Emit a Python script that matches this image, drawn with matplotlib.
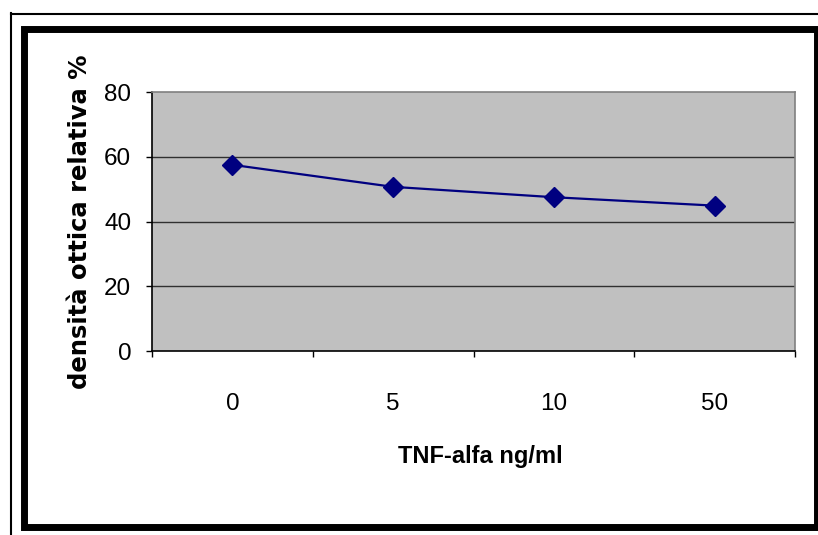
import matplotlib.pyplot as plt
from matplotlib.patches import Rectangle
from matplotlib.lines import Line2D

# data
doses = ['0', '5', '10', '50']
density = [57.5, 50.7, 47.5, 44.9]
y_ticks = [0, 20, 40, 60, 80]

fig = plt.figure(figsize=(8.18, 5.35), dpi=100)
W, H = 818, 535

# frames around the chart (pixel coords -> figure fraction)
fig.add_artist(Line2D([11 / W, 11 / W], [0, 1 - 13 / H], color='black', lw=1.5,
                      transform=fig.transFigure))
fig.add_artist(Line2D([11 / W, 1], [1 - 14 / H, 1 - 14 / H], color='black', lw=1.5,
                      transform=fig.transFigure))
fig.add_artist(Rectangle((24 / W, 1 - 527 / H), (817 - 24) / W, (527 - 29) / H,
                         fill=False, edgecolor='black', lw=5,
                         transform=fig.transFigure))

ax = fig.add_axes([152 / W, 1 - 351 / H, (795 - 152) / W, (351 - 92) / H])
ax.set_facecolor('#c0c0c0')

x = range(len(doses))
ax.plot(x, density, color='#000080', lw=1.6, marker='D', markersize=10.5,
        markerfacecolor='#000080', markeredgecolor='#000080', zorder=3)

ax.set_ylim(0, 80)
ax.set_xlim(-0.5, 3.5)
ax.set_yticks(y_ticks)
for v in y_ticks[1:-1]:
    ax.axhline(v, color='#303030', lw=1, zorder=1)

# category boundaries as major ticks, labels in the middle
ax.set_xticks([-0.5, 0.5, 1.5, 2.5, 3.5])
ax.set_xticklabels([])
ax.set_xticks(list(x), minor=True)
ax.set_xticklabels(doses, minor=True)
ax.tick_params(axis='x', which='minor', length=0, pad=30)
ax.tick_params(axis='x', which='major', length=4, width=1)
ax.tick_params(axis='y', length=4, width=1, pad=11)

for lab in ax.get_xticklabels(minor=True) + ax.get_yticklabels():
    lab.set_fontfamily(['Liberation Sans', 'DejaVu Sans'])
    lab.set_fontsize(17.5)

ax.spines['left'].set_color('black')
ax.spines['bottom'].set_color('black')
ax.spines['top'].set_color('#808080')
ax.spines['right'].set_color('#808080')
for s in ax.spines.values():
    s.set_linewidth(1.2)

fig.text(480 / W, 1 - 457 / H, 'TNF-alfa ng/ml', ha='center', va='center',
         fontsize=17, fontweight='bold',
         family=['Liberation Sans Narrow', 'Liberation Sans', 'DejaVu Sans'])
fig.text(80 / W, 1 - 222 / H, 'densità ottica relativa %', ha='center', va='center',
         rotation=90, fontsize=17.5, fontweight='bold',
         family=['DejaVu Sans'])

plt.savefig('out.png', dpi=100)
